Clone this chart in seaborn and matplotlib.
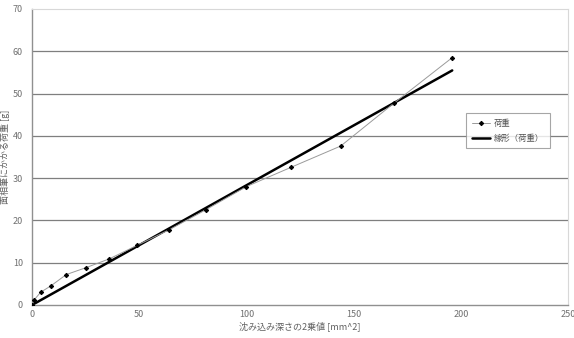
import numpy as np
import pandas as pd
import matplotlib
matplotlib.use("Agg")
import matplotlib.pyplot as plt
import seaborn as sns

depth_sq = [0, 1, 4, 9, 16, 25, 36, 49, 64, 81, 100, 121, 144, 169, 196]
load = [0, 1.2, 3.0, 4.6, 7.2, 8.8, 10.9, 14.1, 17.8, 22.5, 28.0, 32.6, 37.6, 47.8, 58.5]
x_ticks = [0, 50, 100, 150, 200, 250]
y_ticks = [0, 10, 20, 30, 40, 50, 60, 70]
series_label = "荷重"
trend_label = "線形（荷重）"
x_label = "沈み込み深さの2乗値 [mm^2]"
y_label = "面相筆にかかる荷重 [g]"

sns.set_style("white")
plt.rcParams['font.family'] = ['Noto Sans CJK JP', 'DejaVu Sans']

df = pd.DataFrame({"x": depth_sq, "y": load})
xa = np.array(depth_sq, dtype=float)
ya = np.array(load, dtype=float)
slope = (xa * ya).sum() / (xa * xa).sum()
trend = pd.DataFrame({"x": [0, max(depth_sq)], "y": [0, slope * max(depth_sq)]})

fig = plt.figure(figsize=(5.74, 3.38), dpi=100)
ax = fig.add_axes([32/574, 1 - 305/338, (568-32)/574, (305-9)/338])

for v in y_ticks[1:-1]:
    ax.axhline(v, color="#7f7f7f", lw=0.9, zorder=0)

sns.lineplot(data=df, x="x", y="y", ax=ax, color="#9a9a9a", lw=0.7,
             marker="D", markersize=2.2, markerfacecolor="black",
             markeredgecolor="black", label=series_label, zorder=3)
sns.lineplot(data=trend, x="x", y="y", ax=ax, color="black", lw=1.8,
             label=trend_label, zorder=2)

ax.set_xlim(0, 250)
ax.set_ylim(0, 70)
ax.set_xticks(x_ticks)
ax.set_yticks(y_ticks)
ax.tick_params(axis="both", labelsize=6.5, labelcolor="#707070", colors="#a0a0a0",
               length=3, width=0.8)
ax.tick_params(axis="x", direction="in")
ax.tick_params(axis="y", direction="out")
ax.set_xlabel(x_label, fontsize=6.5, color="#606060", labelpad=2)
ax.set_ylabel(y_label, fontsize=6.5, color="#606060", labelpad=2)

for s in ["left", "bottom"]:
    ax.spines[s].set_color("#909090")
    ax.spines[s].set_linewidth(1.0)
for s in ["top", "right"]:
    ax.spines[s].set_color("#d8d8d8")
    ax.spines[s].set_linewidth(0.8)

leg = ax.legend(loc="upper left", bbox_to_anchor=((466-32)/536, 1 - (113-9)/296),
                fontsize=6, frameon=True, fancybox=False, edgecolor="#909090",
                handlelength=2.2, borderpad=0.7, labelspacing=0.7, handletextpad=0.4,
                borderaxespad=0)
leg.get_frame().set_linewidth(0.8)
for t in leg.get_texts():
    t.set_color("#505050")

fig.savefig("out.png", dpi=100)
